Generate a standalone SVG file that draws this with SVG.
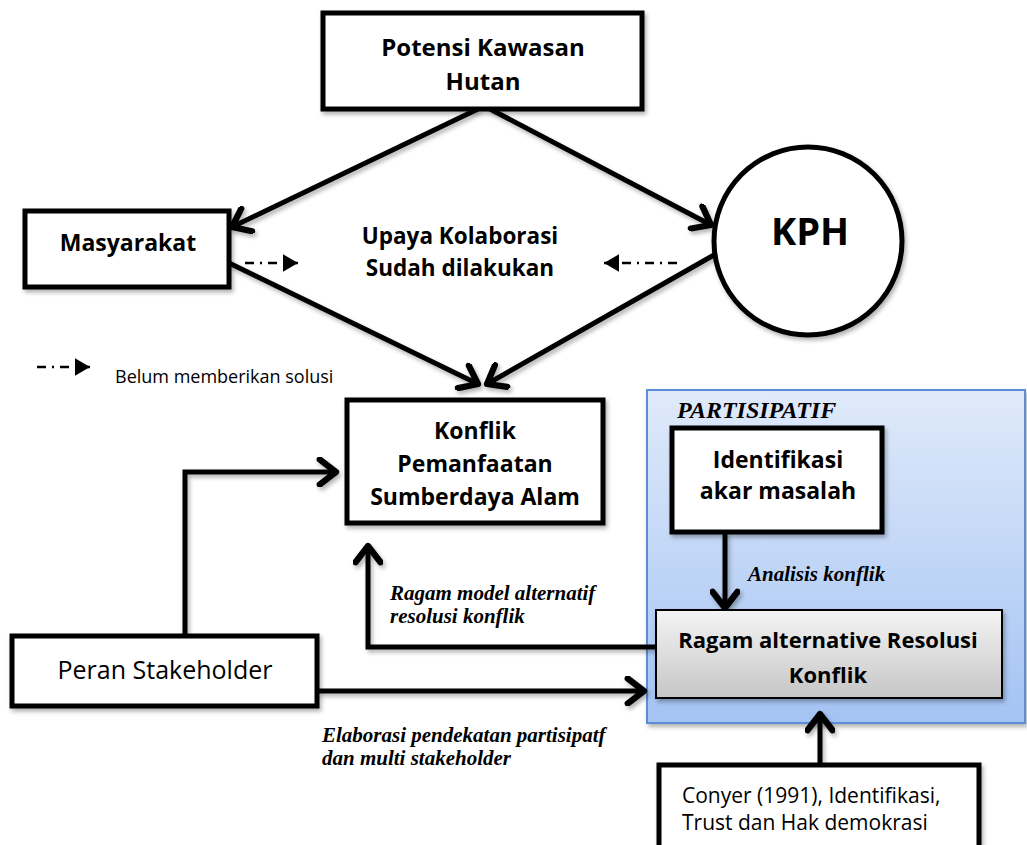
<svg xmlns="http://www.w3.org/2000/svg" width="1027" height="845" viewBox="0 0 1027 845">
<style>
.box{fill:#fff;stroke:#000;stroke-width:5;}
.b{font-family:"Open Sans",Lato,sans-serif;font-weight:bold;fill:#000;text-anchor:middle;}
.r{font-family:"Open Sans",Lato,sans-serif;fill:#000;}
.it{font-family:"Liberation Serif",serif;font-style:italic;font-weight:bold;fill:#000;}
.con{fill:none;stroke:#000;stroke-width:5;stroke-linejoin:miter;}
.dd{fill:none;stroke:#000;stroke-width:2.5;stroke-dasharray:9,6,2,6;}
</style>
<defs>
<filter id="sh" filterUnits="userSpaceOnUse" x="0" y="0" width="1027" height="845">
<feDropShadow dx="2" dy="3" stdDeviation="2" flood-color="#000" flood-opacity="0.3"/>
</filter>
<marker id="ah" markerUnits="userSpaceOnUse" markerWidth="30" markerHeight="30" viewBox="-16 -12 20 24" refX="0" refY="0" orient="auto">
<path d="M -13 -10 L 0 0 L -13 10" fill="none" stroke="#000" stroke-width="5" stroke-linecap="round" stroke-linejoin="round"/>
</marker>
<marker id="tri" markerUnits="userSpaceOnUse" markerWidth="20" markerHeight="20" viewBox="-12 -8 14 16" refX="0" refY="0" orient="auto">
<path d="M -12 -7 L 0 0 L -12 7 Z" fill="#000"/>
</marker>
<linearGradient id="blue" x1="0" y1="0" x2="0" y2="1">
<stop offset="0" stop-color="#e0eafa"/>
<stop offset="1" stop-color="#a3c3f3"/>
</linearGradient>
<linearGradient id="gray" x1="0" y1="0" x2="0" y2="1">
<stop offset="0" stop-color="#f4f4f4"/>
<stop offset="1" stop-color="#c6c6c6"/>
</linearGradient>
</defs>

<g id="panel-partisipatif">
<rect x="647" y="390" width="378" height="333" fill="url(#blue)" stroke="#5b8ed8" stroke-width="2" filter="url(#sh)"/>
<text class="it" x="677" y="418" font-size="24">PARTISIPATIF</text>
</g>

<g id="connectors">
<line class="con" x1="478" y1="109" x2="232" y2="227" marker-end="url(#ah)" filter="url(#sh)"/>
<line class="con" x1="490" y1="109" x2="711" y2="225" marker-end="url(#ah)" filter="url(#sh)"/>
<line class="con" x1="229" y1="263" x2="478" y2="384" marker-end="url(#ah)" filter="url(#sh)"/>
<line class="con" x1="714" y1="255" x2="487" y2="384" marker-end="url(#ah)" filter="url(#sh)"/>
<polyline class="con" points="185,636 185,472 336,472" marker-end="url(#ah)" filter="url(#sh)"/>
<polyline class="con" points="656,647 368,647 368,546" marker-end="url(#ah)" filter="url(#sh)"/>
<line class="con" x1="317" y1="691" x2="644" y2="691" marker-end="url(#ah)" filter="url(#sh)"/>
<line class="con" x1="725" y1="532" x2="725" y2="608" marker-end="url(#ah)" filter="url(#sh)"/>
<line class="con" x1="820" y1="765" x2="820" y2="714" marker-end="url(#ah)" filter="url(#sh)"/>
<line class="dd" x1="245" y1="263" x2="298" y2="263" marker-end="url(#tri)"/>
<line class="dd" x1="677" y1="263" x2="604" y2="263" marker-end="url(#tri)"/>
<line class="dd" x1="37" y1="367" x2="90" y2="367" marker-end="url(#tri)"/>
<text class="it" x="390" y="600" font-size="21">Ragam model alternatif</text>
<text class="it" x="390" y="623" font-size="21">resolusi konflik</text>
<text class="it" x="322" y="742" font-size="21">Elaborasi pendekatan partisipatf</text>
<text class="it" x="322" y="765" font-size="21">dan multi stakeholder</text>
<text class="it" x="748" y="581" font-size="21">Analisis konflik</text>
</g>

<g id="legend">
<text class="r" x="115" y="383" font-size="18">Belum memberikan solusi</text>
</g>

<g id="potensi">
<rect class="box" x="323" y="13" width="319" height="96" filter="url(#sh)"/>
<text class="b" x="483" y="56" font-size="24">Potensi Kawasan</text>
<text class="b" x="483" y="90" font-size="24">Hutan</text>
</g>

<g id="masyarakat">
<rect class="box" x="25" y="211" width="204" height="76" filter="url(#sh)"/>
<text class="b" x="128" y="251" font-size="23">Masyarakat</text>
</g>

<g id="upaya">
<text class="b" x="460" y="244" font-size="22.5">Upaya Kolaborasi</text>
<text class="b" x="460" y="276" font-size="22.5">Sudah dilakukan</text>
</g>

<g id="kph">
<circle cx="808" cy="241" r="94" fill="#fff" stroke="#000" stroke-width="5" filter="url(#sh)"/>
<text class="b" x="810" y="245" font-size="38">KPH</text>
</g>

<g id="konflik">
<rect class="box" x="347" y="400" width="256" height="123" filter="url(#sh)"/>
<text class="b" x="475" y="439" font-size="23">Konflik</text>
<text class="b" x="475" y="472" font-size="23">Pemanfaatan</text>
<text class="b" x="475" y="505" font-size="23">Sumberdaya Alam</text>
</g>

<g id="peran-stakeholder">
<rect class="box" x="12" y="636" width="305" height="70" filter="url(#sh)"/>
<text class="r" x="165" y="679" font-size="25" text-anchor="middle">Peran Stakeholder</text>
</g>

<g id="identifikasi">
<rect class="box" x="672" y="428" width="210" height="104" filter="url(#sh)"/>
<text class="b" x="778" y="468" font-size="23">Identifikasi</text>
<text class="b" x="778" y="499" font-size="23">akar masalah</text>
</g>

<g id="ragam-alternative">
<rect x="656" y="610" width="346" height="88" fill="url(#gray)" stroke="#000" stroke-width="2" filter="url(#sh)"/>
<text class="b" x="828" y="648" font-size="22">Ragam alternative Resolusi</text>
<text class="b" x="828" y="683" font-size="22">Konflik</text>
</g>

<g id="conyer">
<rect class="box" x="659" y="765" width="320" height="90" filter="url(#sh)"/>
<text class="r" x="682" y="803" font-size="21">Conyer (1991), Identifikasi,</text>
<text class="r" x="682" y="830" font-size="21">Trust dan Hak demokrasi</text>
</g>
</svg>
